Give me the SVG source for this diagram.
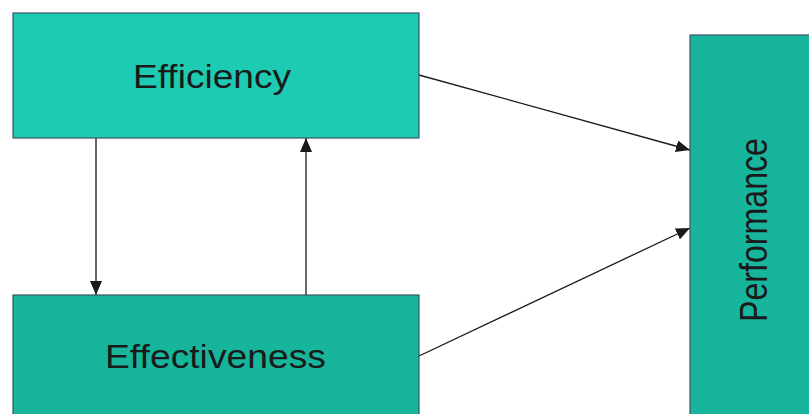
<svg xmlns="http://www.w3.org/2000/svg" width="809" height="414" viewBox="0 0 809 414">
  <style>
    .box { stroke: #3b5566; stroke-width: 1.2; }
    .light { fill: #1ccbb2; }
    .dark { fill: #17b59c; }
    .label { font-family: "Liberation Sans", Arial, sans-serif; fill: #1a1a1a; }
    .edge { stroke: #1a1a1a; stroke-width: 1.3; fill: none; marker-end: url(#arrow); }
  </style>
  <defs>
    <marker id="arrow" viewBox="0 0 14 12" refX="14" refY="6" markerWidth="14" markerHeight="12" markerUnits="userSpaceOnUse" orient="auto">
      <path d="M0,0 L14,6 L0,12 z" fill="#1a1a1a"/>
    </marker>
  </defs>
  <rect width="809" height="414" fill="#ffffff"/>

  <g id="connectors">
    <line class="edge" x1="96" y1="138" x2="96" y2="295"/>
    <line class="edge" x1="306" y1="295" x2="306" y2="138"/>
    <line class="edge" x1="419" y1="75" x2="690" y2="150"/>
    <line class="edge" x1="419" y1="356" x2="690" y2="228"/>
  </g>

  <g id="efficiency">
    <rect class="box light" x="13" y="13" width="406" height="125"/>
    <text class="label" x="212" y="88" font-size="34" text-anchor="middle" textLength="158" lengthAdjust="spacingAndGlyphs">Efficiency</text>
  </g>

  <g id="effectiveness">
    <rect class="box dark" x="13" y="295" width="406" height="130"/>
    <text class="label" x="215.5" y="368" font-size="34" text-anchor="middle" textLength="221" lengthAdjust="spacingAndGlyphs">Effectiveness</text>
  </g>

  <g id="performance">
    <rect class="box dark" x="690" y="35" width="130" height="390"/>
    <text class="label" transform="translate(767,230) rotate(-90)" x="0" y="0" font-size="38" text-anchor="middle" textLength="184" lengthAdjust="spacingAndGlyphs">Performance</text>
  </g>
</svg>
